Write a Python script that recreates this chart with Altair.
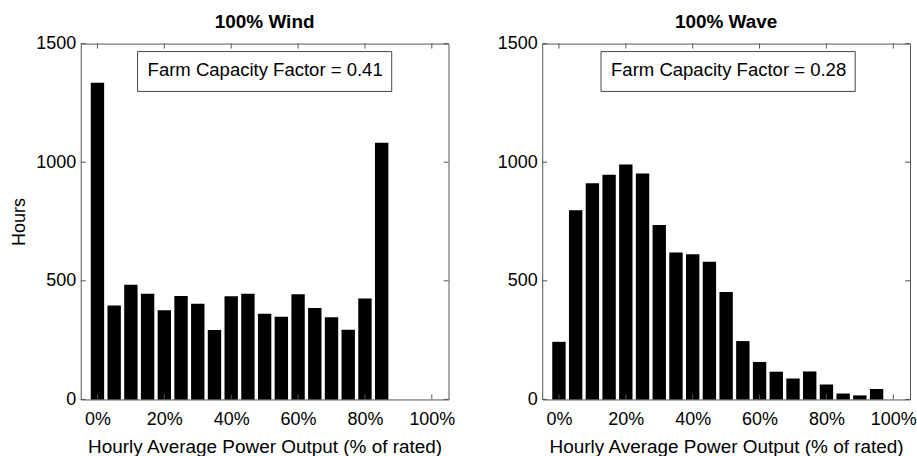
import altair as alt
import pandas as pd

# ---- data ----
wind_bins = [0, 5, 10, 15, 20, 25, 30, 35, 40, 45, 50, 55, 60, 65, 70, 75, 80, 85]
wind_hours = [1335, 396, 483, 446, 376, 436, 403, 293, 435, 446, 361, 349, 443, 385, 346, 294, 426, 1082]

wave_bins = [0, 5, 10, 15, 20, 25, 30, 35, 40, 45, 50, 55, 60, 65, 70, 75, 80, 85, 90, 95]
wave_hours = [243, 797, 911, 947, 990, 952, 735, 619, 612, 580, 453, 246, 158, 117, 88, 118, 63, 25, 17, 44]

x_ticks = [0, 20, 40, 60, 80, 100]
y_ticks = [0, 500, 1000, 1500]

titles = ["100% Wind", "100% Wave"]
cf_labels = ["Farm Capacity Factor = 0.41", "Farm Capacity Factor = 0.28"]
x_title = "Hourly Average Power Output (% of rated)"
y_title = "Hours"

# ---- style ----
FONT = "Liberation Sans"
W, H = 369, 357
HALF_BAR = 2.0
FRAME = "#555555"
TICK_LEN = 5


def panel(bins, hours, title, cf_text, show_ytitle, box_x):
    df = pd.DataFrame({
        "lo": [b - HALF_BAR for b in bins],
        "hi": [b + HALF_BAR for b in bins],
        "hours": hours,
    })
    xs = alt.Scale(domain=[-5, 105], nice=False, zero=False)
    ys = alt.Scale(domain=[0, 1500], nice=False)

    yaxis = alt.Axis(values=y_ticks, format="d", ticks=False, domain=False, grid=False,
                     labelPadding=5, titlePadding=7,
                     title=y_title if show_ytitle else None)
    xaxis = alt.Axis(values=x_ticks, labelExpr="datum.value + '%'",
                     ticks=False, domain=False, grid=False,
                     labelPadding=11, titlePadding=9, titleFontSize=19, title=x_title)

    bars = alt.Chart(df).mark_bar(color="black").encode(
        x=alt.X("lo:Q", scale=xs, axis=xaxis),
        x2="hi:Q",
        y=alt.Y("hours:Q", scale=ys, axis=yaxis),
        y2=alt.datum(0),
    )

    tx = pd.DataFrame({"t": x_ticks})
    ty = pd.DataFrame({"t": y_ticks})
    bottom = alt.Chart(tx).mark_rule(color=FRAME).encode(
        x=alt.X("t:Q", scale=xs, axis=xaxis), y=alt.value(H), y2=alt.value(H - TICK_LEN))
    top = alt.Chart(tx).mark_rule(color=FRAME).encode(
        x=alt.X("t:Q", scale=xs, axis=xaxis), y=alt.value(0), y2=alt.value(TICK_LEN))
    left = alt.Chart(ty).mark_rule(color=FRAME).encode(
        y=alt.Y("t:Q", scale=ys, axis=yaxis), x=alt.value(0), x2=alt.value(TICK_LEN))
    right = alt.Chart(ty).mark_rule(color=FRAME).encode(
        y=alt.Y("t:Q", scale=ys, axis=yaxis), x=alt.value(W), x2=alt.value(W - TICK_LEN))

    lab = pd.DataFrame({"label": [cf_text]})
    box = alt.Chart(lab).mark_rect(fill="white", stroke="#444444", strokeWidth=1).encode(
        x=alt.value(box_x), x2=alt.value(box_x + 255), y=alt.value(8), y2=alt.value(48))
    txt = alt.Chart(lab).mark_text(font=FONT, fontSize=18.6, color="black",
                                   baseline="alphabetic", align="center").encode(
        x=alt.value(box_x + 128), y=alt.value(33), text="label:N")

    return alt.layer(bars, bottom, top, left, right, box, txt).properties(
        width=W, height=H,
        title=alt.TitleParams(title, fontSize=19, font=FONT, fontWeight="bold",
                              offset=3, color="black"))


chart = alt.hconcat(
    panel(wind_bins, wind_hours, titles[0], cf_labels[0], True, 57),
    panel(wave_bins, wave_hours, titles[1], cf_labels[1], False, 59),
    spacing=94, bounds="flush",
).properties(
    padding={"left": 10, "top": 11, "right": 0, "bottom": 0},
).configure_view(
    stroke=FRAME, strokeWidth=1
).configure_axis(
    labelFont=FONT, labelFontSize=18, labelColor="black",
    titleFont=FONT, titleFontSize=18, titleColor="black", titleFontWeight="normal",
)

chart.save("out.html", embed_options={"renderer": "svg", "actions": False})
